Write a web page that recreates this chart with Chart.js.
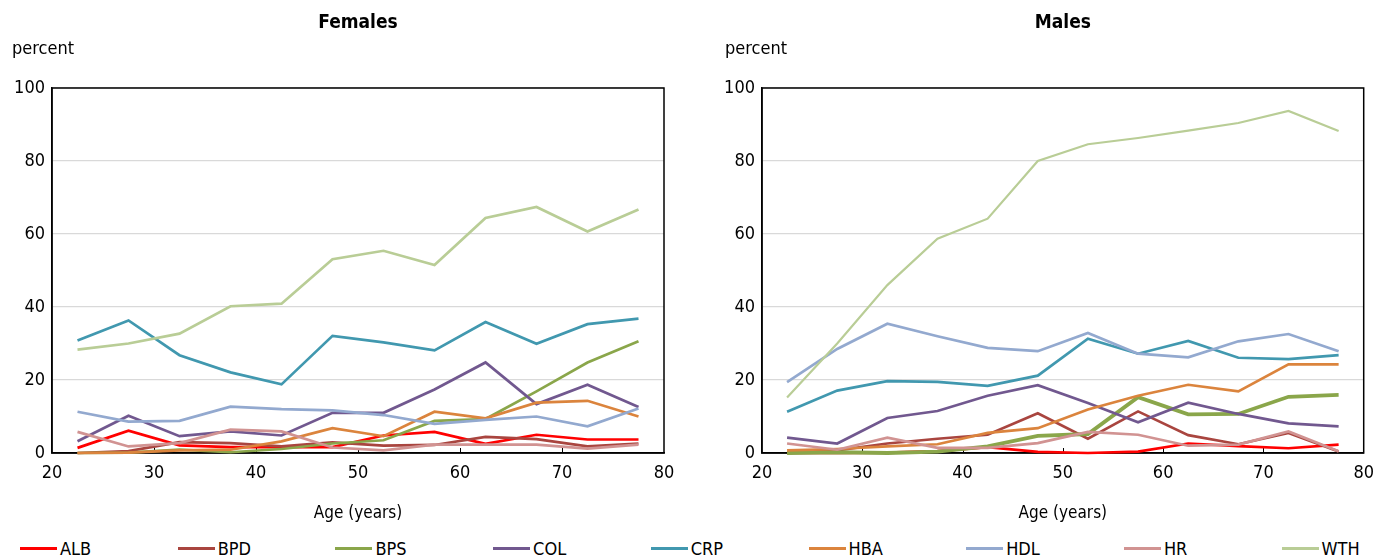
<!DOCTYPE html>
<html lang="en">
<head>
  <meta charset="UTF-8">
  <title>Females / Males - percent by age</title>
  <script src="https://cdn.jsdelivr.net/npm/chart.js"></script>
  <style>
    * { box-sizing: border-box; }
    body {
      margin: 0;
      width: 1384px;
      height: 560px;
      background: #fff;
      font-family: "DejaVu Sans Condensed", "Liberation Sans", sans-serif;
      position: relative;
      overflow: hidden;
    }
    .panel { position: absolute; top: 0; width: 692px; height: 530px; }
    #left { left: 0; }
    #right { left: 692px; }
    .legend { position: absolute; top: 538px; left: 20px; height: 24px; }
    .legend .item {
      position: absolute;
      top: 0;
      display: flex;
      align-items: center;
      font-size: 18px;
      color: #000;
      white-space: nowrap;
    }
    .legend .swatch { width: 37px; height: 3px; margin-right: 3px; }
  </style>
</head>
<body>
  <div class="panel" id="left"><canvas id="chartFemales" width="692" height="530"></canvas></div>
  <div class="panel" id="right"><canvas id="chartMales" width="692" height="530"></canvas></div>
  <div class="legend" id="legend"></div>

  <script>
    const ages = [22.5, 27.5, 32.5, 37.5, 42.5, 47.5, 52.5, 57.5, 62.5, 67.5, 72.5, 77.5];
    const seriesNames = ['ALB', 'BPD', 'BPS', 'COL', 'CRP', 'HBA', 'HDL', 'HR', 'WTH'];
    const seriesColors = ['#ff0000', '#a9453f', '#8aa64a', '#71588f', '#4198af', '#db843d', '#93a9cf', '#d19392', '#b9cd96'];
    const xTicks = [20, 30, 40, 50, 60, 70, 80];
    const yTicks = [0, 20, 40, 60, 80, 100];

    // Females
    const femALB = [1.4, 6.1, 2.1, 1.6, 1.6, 1.6, 4.8, 5.8, 2.5, 5.0, 3.7, 3.7];
    const femBPD = [0.0, 0.5, 3.0, 2.7, 1.8, 2.9, 2.0, 2.2, 4.4, 3.8, 1.8, 2.6];
    const femBPS = [0.0, 0.1, 0.9, 0.2, 1.1, 2.6, 3.5, 8.8, 9.3, 16.9, 24.8, 30.6];
    const femCOL = [3.2, 10.2, 4.6, 5.9, 4.8, 11.0, 11.0, 17.4, 24.8, 13.4, 18.7, 12.6];
    const femCRP = [30.8, 36.3, 26.8, 22.1, 18.8, 32.1, 30.3, 28.1, 35.9, 29.9, 35.3, 36.8];
    const femHBA = [0.0, 0.1, 0.7, 0.9, 3.2, 6.8, 4.6, 11.3, 9.5, 13.8, 14.3, 10.0];
    const femHDL = [11.3, 8.6, 8.8, 12.7, 12.0, 11.7, 10.4, 8.0, 9.1, 10.0, 7.3, 12.2];
    const femHR  = [5.8, 1.8, 2.7, 6.4, 5.9, 1.5, 0.7, 2.3, 2.3, 2.3, 1.2, 2.3];
    const femWTH = [28.3, 30.0, 32.7, 40.2, 40.9, 53.1, 55.4, 51.5, 64.4, 67.4, 60.7, 66.7];

    // Males
    const malALB = [0.0, 0.0, 0.1, 0.5, 1.6, 0.3, 0.0, 0.4, 2.6, 1.9, 1.3, 2.3];
    const malBPD = [0.2, 0.7, 2.6, 3.9, 5.0, 10.9, 3.9, 11.4, 4.9, 2.4, 5.5, 0.4];
    const malBPS = [0.0, 0.2, 0.0, 0.4, 1.8, 4.7, 5.2, 15.3, 10.6, 10.7, 15.4, 15.9];
    const malCOL = [4.2, 2.6, 9.6, 11.5, 15.7, 18.6, 13.7, 8.4, 13.8, 10.7, 8.1, 7.3];
    const malCRP = [11.3, 17.1, 19.7, 19.5, 18.4, 21.2, 31.3, 27.2, 30.7, 26.1, 25.7, 26.8];
    const malHBA = [0.7, 1.1, 1.8, 2.4, 5.5, 6.8, 11.9, 15.7, 18.7, 16.9, 24.3, 24.3];
    const malHDL = [19.4, 28.5, 35.4, 32.0, 28.8, 27.9, 32.9, 27.2, 26.2, 30.6, 32.6, 27.9];
    const malHR  = [2.6, 0.9, 4.2, 1.4, 1.4, 2.7, 5.8, 5.0, 2.0, 2.3, 5.9, 0.5];
    const malWTH = [15.2, 30.0, 46.0, 58.7, 64.2, 80.0, 84.6, 86.3, 88.3, 90.4, 93.7, 88.2];

    const femData = [femALB, femBPD, femBPS, femCOL, femCRP, femHBA, femHDL, femHR, femWTH];
    const malData = [malALB, malBPD, malBPS, malCOL, malCRP, malHBA, malHDL, malHR, malWTH];

    const FONT = '"DejaVu Sans Condensed", "Liberation Sans", sans-serif';
    Chart.defaults.font.family = FONT;
    Chart.defaults.color = '#000';

    // title, "percent" label, plot frame and inward x ticks
    const decorations = {
      id: 'decorations',
      beforeDatasetsDraw(chart, args, opts) {
        const a = chart.chartArea, ctx = chart.ctx;
        ctx.save();
        ctx.strokeStyle = '#000';
        ctx.lineWidth = 1.5;
        ctx.strokeRect(a.left, a.top, a.right - a.left, a.bottom - a.top);
        ctx.lineWidth = 1;
        const xs = chart.scales.x;
        xTicks.slice(1, -1).forEach(v => {
          const px = Math.round(xs.getPixelForValue(v)) + 0.5;
          ctx.beginPath();
          ctx.moveTo(px, a.bottom);
          ctx.lineTo(px, a.bottom - 5);
          ctx.stroke();
        });
        ctx.restore();
      },
      afterDraw(chart, args, opts) {
        const a = chart.chartArea, ctx = chart.ctx;
        ctx.save();
        ctx.fillStyle = '#000';
        ctx.textBaseline = 'middle';
        ctx.font = 'bold 19px ' + FONT;
        ctx.textAlign = 'center';
        ctx.fillText(opts.title, (a.left + a.right) / 2, 23);
        ctx.font = '18px ' + FONT;
        ctx.textAlign = 'left';
        ctx.fillText('percent', opts.unitX, 49);
        ctx.restore();
      }
    };

    function makeChart(id, data, title, yWidth, padRight, unitX, thick) {
      const datasets = seriesNames.map((name, i) => ({
        label: name,
        data: ages.map((a, j) => ({ x: a, y: data[i][j] })),
        borderColor: seriesColors[i],
        backgroundColor: seriesColors[i],
        borderWidth: thick[name] || 2.7,
        pointRadius: 0,
        tension: 0,
        clip: false,
        order: seriesNames.length - i
      }));
      return new Chart(document.getElementById(id), {
        type: 'line',
        data: { datasets },
        plugins: [decorations],
        options: {
          responsive: false,
          animation: false,
          layout: { padding: { top: 88, right: padRight, left: 0, bottom: 6 } },
          plugins: {
            legend: { display: false },
            tooltip: { enabled: false },
            decorations: { title, unitX }
          },
          scales: {
            x: {
              type: 'linear',
              min: 20, max: 80,
              afterBuildTicks: s => { s.ticks = xTicks.map(v => ({ value: v })); },
              afterFit: s => { s.height = 71; },
              grid: { display: false, drawTicks: false },
              border: { color: '#000', width: 1.5 },
              ticks: { font: { size: 18 }, padding: 10, maxRotation: 0 },
              title: { display: true, text: 'Age (years)', font: { size: 17 }, padding: { top: 0, bottom: 0 } }
            },
            y: {
              min: 0, max: 100,
              afterBuildTicks: s => { s.ticks = yTicks.map(v => ({ value: v })); },
              afterFit: s => { s.width = yWidth; },
              grid: { color: '#d9d9d9', lineWidth: 1.2, drawTicks: false },
              border: { color: '#000', width: 1.5 },
              ticks: { font: { size: 18 }, padding: 7 }
            }
          }
        }
      });
    }

    makeChart('chartFemales', femData, 'Females', 52, 28, 12, {});
    makeChart('chartMales', malData, 'Males', 70, 13, 33, { BPS: 3.8, WTH: 2.2 });

    // shared legend below both panels
    const legend = document.getElementById('legend');
    seriesNames.forEach((name, i) => {
      const item = document.createElement('div');
      item.className = 'item';
      item.style.left = (i * 157.7) + 'px';
      item.innerHTML = '<span class="swatch" style="background:' + seriesColors[i] + '"></span>' + name;
      legend.appendChild(item);
    });
  </script>
</body>
</html>
